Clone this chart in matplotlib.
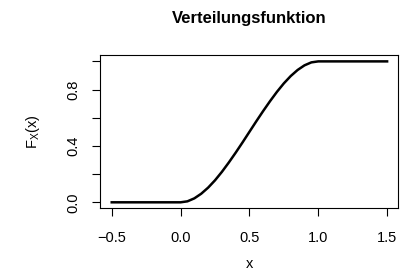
import matplotlib
matplotlib.use("Agg")
import matplotlib.pyplot as plt

# CDF values
x_vals = [-0.5, 0.0, 0.05, 0.1, 0.15, 0.2, 0.25, 0.3, 0.35, 0.4, 0.45, 0.5,
          0.55, 0.6, 0.65, 0.7, 0.75, 0.8, 0.85, 0.9, 0.95, 1.0, 1.5]
F_vals = [0.0, 0.0, 0.007, 0.028, 0.061, 0.104, 0.156, 0.216, 0.282, 0.352, 0.425, 0.5,
          0.575, 0.648, 0.718, 0.784, 0.844, 0.896, 0.939, 0.972, 0.993, 1.0, 1.0]

x_ticks = [-0.5, 0.0, 0.5, 1.0, 1.5]
x_ticklabels = ["\u22120.5", "0.0", "0.5", "1.0", "1.5"]
y_ticks = [0.0, 0.2, 0.4, 0.6, 0.8, 1.0]
y_ticklabels = ["0.0", "", "0.4", "", "0.8", ""]

plt.rcParams['font.family'] = ['Liberation Sans', 'DejaVu Sans']
plt.rcParams['mathtext.fontset'] = 'custom'
plt.rcParams['mathtext.rm'] = 'Liberation Sans'
plt.rcParams['mathtext.it'] = 'Liberation Sans'

fig = plt.figure(figsize=(4.05, 2.78), dpi=100)
ax = fig.add_axes([0.247, 0.252, 0.736, 0.55])

ax.plot(x_vals, F_vals, color='black', lw=1.8)

ax.set_xlim(-0.585, 1.58)
ax.set_ylim(-0.04, 1.045)
ax.set_xticks(x_ticks)
ax.set_xticklabels(x_ticklabels)
ax.set_yticks(y_ticks)
ax.set_yticklabels(y_ticklabels, rotation=90, va='center')
ax.tick_params(direction='out', length=5.5, width=0.8, labelsize=10.5)
ax.tick_params(axis='x', pad=11)
ax.tick_params(axis='y', pad=9)
for s in ax.spines.values():
    s.set_linewidth(0.8)

ax.set_title('Verteilungsfunktion', fontsize=12, fontweight='bold', pad=23)
ax.set_xlabel('x', fontsize=10.5, labelpad=9)
ax.set_ylabel(r'$\mathregular{F_X(x)}$', fontsize=10.5, labelpad=17)

fig.savefig('out.png', dpi=100)
